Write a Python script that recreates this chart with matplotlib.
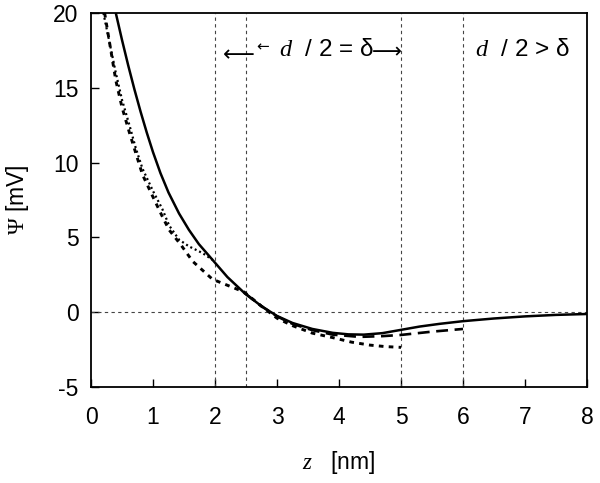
import matplotlib
matplotlib.use("Agg")
import matplotlib.pyplot as plt

plt.rcParams['font.family'] = ['Liberation Sans', 'DejaVu Sans']
plt.rcParams['mathtext.fontset'] = 'custom'
plt.rcParams['mathtext.rm'] = 'Liberation Serif'
plt.rcParams['mathtext.it'] = 'Liberation Serif:italic'

# ---- data ----
solid_z = [0.40, 0.50, 0.60, 0.70, 0.80, 0.90, 1.00, 1.12, 1.25, 1.42, 1.58, 1.74, 1.96,
           2.20, 2.47, 2.75, 3.00, 3.25, 3.57, 3.90, 4.15, 4.40, 4.70, 5.00, 5.30, 5.62,
           6.00, 6.50, 7.00, 7.50, 8.00]
solid_psi = [20.0, 18.2, 16.5, 14.9, 13.4, 12.0, 10.7, 9.3, 8.0, 6.6, 5.5, 4.55, 3.5,
             2.35, 1.3, 0.4, -0.25, -0.72, -1.12, -1.38, -1.48, -1.50, -1.40, -1.18, -0.96, -0.78,
             -0.60, -0.42, -0.28, -0.18, -0.12]

dotted_z = [0.20, 0.25, 0.30, 0.40, 0.50, 0.62, 0.72, 0.83, 1.00, 1.15, 1.26, 1.42, 1.58, 1.80, 1.96]
dotted_psi = [20.0, 19.0, 18.0, 16.0, 14.2, 12.5, 11.0, 9.6, 8.1, 6.9, 5.8, 4.85, 4.4, 3.95, 3.5]

short_z = [0.22, 0.30, 0.40, 0.50, 0.62, 0.83, 1.00, 1.15, 1.26, 1.45, 1.64, 1.80, 1.96,
           2.20, 2.47, 2.75, 3.00, 3.25, 3.57, 3.90, 4.20, 4.50, 4.75, 5.00]
short_psi = [20.0, 18.0, 15.5, 13.7, 12.0, 9.2, 7.7, 6.4, 5.5, 4.5, 3.4, 2.8, 2.2,
             1.8, 1.35, 0.4, -0.4, -0.9, -1.4, -1.7, -2.0, -2.2, -2.3, -2.35]

long_z = [2.47, 2.75, 3.00, 3.25, 3.57, 3.90, 4.33, 4.70, 5.00, 5.50, 6.00]
long_psi = [1.3, 0.4, -0.28, -0.78, -1.2, -1.5, -1.65, -1.6, -1.52, -1.3, -1.12]

vlines_z = [2.0, 2.5, 5.0, 6.0]
xticks = [0, 1, 2, 3, 4, 5, 6, 7, 8]
yticks = [-5, 0, 5, 10, 15, 20]

fig = plt.figure(figsize=(6.0, 4.83), dpi=100)
ax = fig.add_axes([91/600, 1 - 387/483, 496/600, 374/483])

for zv in vlines_z:
    ax.axvline(zv, color='#444444', lw=0.8, dashes=(3, 3))
ax.axhline(0, color='#444444', lw=0.8, dashes=(3, 3))

ax.plot(solid_z, solid_psi, color='black', lw=1.8, solid_capstyle='butt')
ax.plot(dotted_z, dotted_psi, color='black', lw=1.6, dashes=(0.9, 1.3))
ax.plot(short_z, short_psi, color='black', lw=2.1, dashes=(1.6, 1.8))
ax.plot(long_z, long_psi, color='black', lw=1.9, dashes=(4.5, 2.5))

ax.set_xlim(0, 8)
ax.set_ylim(-5, 20)
ax.set_xticks(xticks)
ax.set_yticks(yticks)
ax.set_xticklabels([str(t) for t in xticks])
ax.set_yticklabels([str(t) for t in yticks])
ax.tick_params(direction='in', length=6, width=1, labelsize=16.5)
ax.tick_params(axis='y', pad=9)
ax.tick_params(axis='x', pad=14)
for s in ax.spines.values():
    s.set_linewidth(1.3)

ax.set_xlabel(r"$z$   [nm]", fontsize=16.5, labelpad=14)
ax.set_ylabel(r"$\Psi$ [mV]", fontsize=16.5, labelpad=16)

# annotations
ax.text(2.13, 17.15, "\u27f5", fontsize=16, ha='left', va='center', family=['DejaVu Sans'])
ax.text(2.66, 17.7, "\u2190", fontsize=11, ha='left', va='center', family=['DejaVu Sans'])
ax.text(3.04, 17.5, r"$d$  / 2 = δ", fontsize=17.5, ha='left', va='center')
ax.text(4.53, 17.4, "\u27f6", fontsize=15, ha='left', va='center', family=['DejaVu Sans'])
ax.text(6.19, 17.5, r"$d$  / 2 > δ", fontsize=17.5, ha='left', va='center')

fig.savefig("out.png", dpi=100)
